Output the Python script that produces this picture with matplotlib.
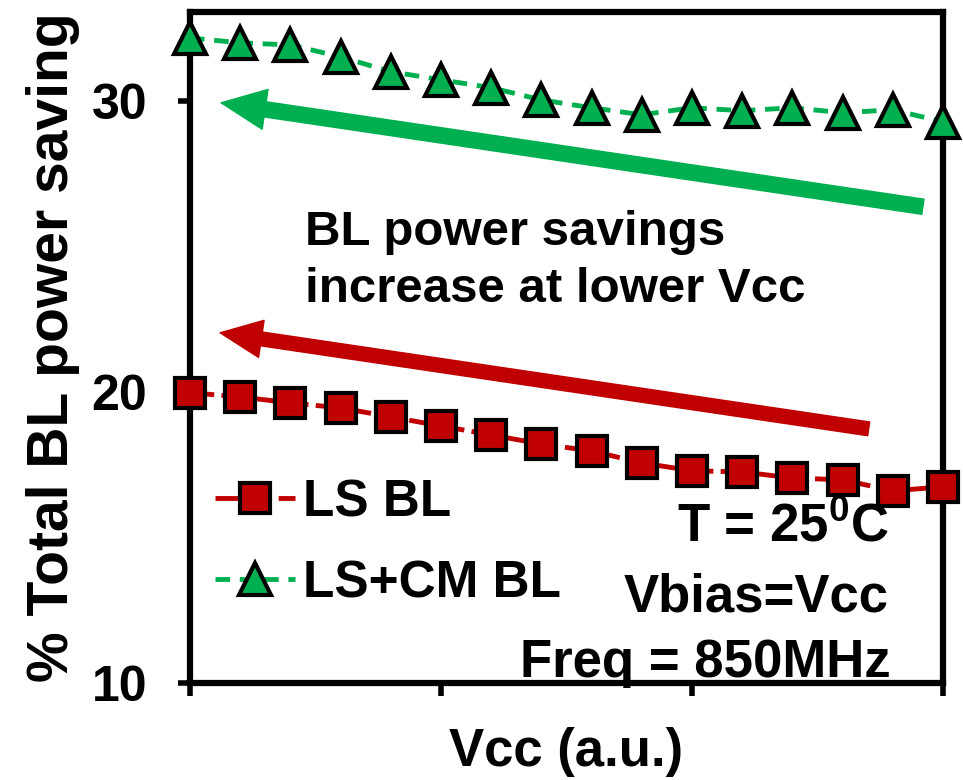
import numpy as np
import matplotlib
matplotlib.use('Agg')
import matplotlib.pyplot as plt

plt.rcParams['font.family'] = ['Liberation Sans', 'DejaVu Sans']
plt.rcParams['font.weight'] = 'bold'
plt.rcParams['mathtext.fontset'] = 'custom'
plt.rcParams['mathtext.rm'] = 'Liberation Sans:bold'
plt.rcParams['mathtext.bf'] = 'Liberation Sans:bold'

# data
vcc = np.arange(16)
ls_bl = [19.97, 19.83, 19.62, 19.45, 19.14, 18.83, 18.52, 18.21,
         17.97, 17.56, 17.29, 17.25, 17.04, 16.98, 16.60, 16.74]
ls_cm_bl = [32.16, 31.99, 31.92, 31.51, 31.00, 30.72, 30.45, 30.03,
            29.76, 29.52, 29.76, 29.66, 29.76, 29.59, 29.69, 29.28]
yticks = [10, 20, 30]
xticks = [0, 5, 10, 15]

red = '#C00000'
green = '#00B050'

fig = plt.figure(figsize=(9.63, 7.8), dpi=100)
ax = fig.add_axes([0.1973, 0.1244, 0.7819, 0.8602])

ax.plot(vcc, ls_bl, color=red, lw=3.5, dashes=(5, 1.5), marker='s', ms=21,
        mfc=red, mec='black', mew=3, label='LS BL', clip_on=False, zorder=3)
ax.plot(vcc, ls_cm_bl, color=green, lw=3.5, dashes=(3, 2), marker='^', ms=23,
        mfc=green, mec='black', mew=3, label='LS+CM BL', clip_on=False, zorder=3)

ax.set_xlim(0, 15)
ax.set_ylim(10, 33.05)
ax.set_xticks(xticks)
ax.set_xticklabels([])
ax.set_yticks(yticks)
ax.tick_params(axis='both', direction='out', length=9, width=4, labelsize=36, pad=22)
for s in ax.spines.values():
    s.set_linewidth(4.5)

ax.set_xlabel('Vcc (a.u.)', fontsize=38, fontweight='bold', labelpad=1)
ax.set_ylabel('% Total BL power saving', fontsize=41, fontweight='bold', labelpad=8)

# trend arrows
ax.annotate('', xy=(0.62, 29.93), xytext=(14.6, 26.36),
            arrowprops=dict(arrowstyle='simple,head_length=3.2,head_width=2.9,tail_width=1.1',
                            mutation_scale=10, color=green, shrinkA=0, shrinkB=0))
ax.annotate('', xy=(0.6, 22.03), xytext=(13.52, 18.73),
            arrowprops=dict(arrowstyle='simple,head_length=3.0,head_width=2.7,tail_width=1.0',
                            mutation_scale=10, color=red, shrinkA=0, shrinkB=0))

ax.text(0.153, 0.629, 'BL power savings\nincrease at lower Vcc', transform=ax.transAxes,
        fontsize=35.5, fontweight='bold', ha='left', va='center', linespacing=1.32)

ax.text(0.928, 0.233, r'T = 25$^{\mathbf{0}}$C', transform=ax.transAxes,
        fontsize=38, fontweight='bold', ha='right', va='center')
ax.text(0.928, 0.127, 'Vbias=Vcc', transform=ax.transAxes,
        fontsize=38, fontweight='bold', ha='right', va='center')
ax.text(0.931, 0.030, 'Freq = 850MHz', transform=ax.transAxes,
        fontsize=38, fontweight='bold', ha='right', va='center')

ax.legend(loc='upper left', bbox_to_anchor=(0.013, 0.328), frameon=False,
          fontsize=37, handlelength=1.55, handletextpad=0.15, labelspacing=0.62,
          borderaxespad=0, borderpad=0.3)

fig.savefig('out.png', dpi=100)
